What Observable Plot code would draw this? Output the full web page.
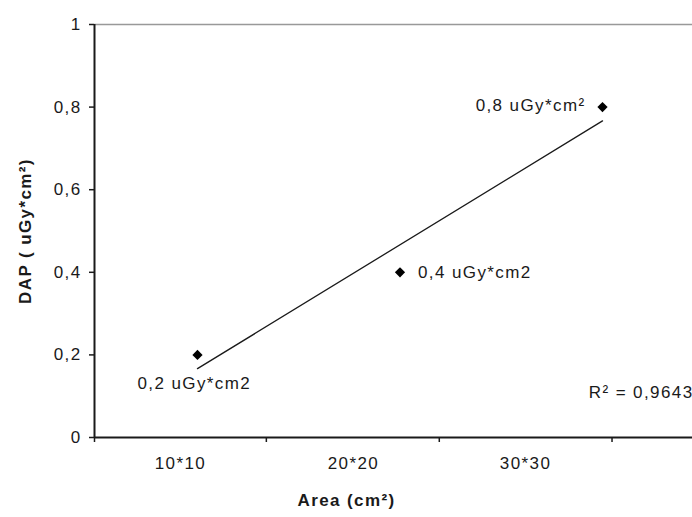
<!DOCTYPE html>
<html>
<head>
<meta charset="utf-8">
<script src="https://cdn.jsdelivr.net/npm/d3@7"></script>
<script src="https://cdn.jsdelivr.net/npm/@observablehq/plot@0.6"></script>
<style>
  html, body { margin: 0; padding: 0; background: #fff; }
</style>
</head>
<body>
<div id="chart"></div>
<script>
// Data
const pointX = [1, 2, 3];
const pointY = [0.2, 0.4, 0.8];
const pointLabels = ["0,2 uGy*cm2", "0,4 uGy*cm2", "0,8 uGy*cm²"];
const categories = ["10*10", "20*20", "30*30"];
const categoryLabelX = [0.916, 1.77, 2.62];
const categoryTickX = [0.4914, 1.34, 2.194, 3.047];
const yTicks = [0, 0.2, 0.4, 0.6, 0.8, 1];
const r2Text = "R² = 0,9643";
const yTitle = "DAP ( uGy*cm²)";
const xTitle = "Area (cm²)";
const xDomain = [0.4914, 3.4444];

const points = pointX.map((x, i) => ({x, y: pointY[i], label: pointLabels[i]}));
const ink = "#1a1a1a";

const chart = Plot.plot({
  width: 692,
  height: 517,
  marginLeft: 94,
  marginRight: 0,
  marginTop: 24,
  marginBottom: 80,
  style: {fontFamily: "'Liberation Sans', Arial, sans-serif", fontSize: "17px", letterSpacing: "1.4px", color: ink, background: "#fff"},
  x: {domain: xDomain},
  y: {domain: [0, 1]},
  marks: [
    Plot.ruleY([1], {stroke: "#999", strokeWidth: 1.5}),
    Plot.ruleY([0], {stroke: ink, strokeWidth: 2}),
    Plot.ruleX([xDomain[0]], {stroke: ink, strokeWidth: 2}),
    Plot.axisY({ticks: yTicks, tickSize: 5, tickPadding: 8, tickFormat: d => String(d).replace(".", ","), label: null, stroke: ink, fill: ink, strokeWidth: 1.5, fontSize: 17}),
    Plot.axisX({ticks: categoryTickX, tickSize: 5, tickFormat: () => "", label: null, stroke: ink, strokeWidth: 1.5}),
    Plot.text(categories, {x: (d, i) => categoryLabelX[i], frameAnchor: "bottom", dy: 31, text: d => d, fill: ink, fontSize: 17}),
    Plot.linearRegressionY(points, {x: "x", y: "y", ci: 0, stroke: ink, strokeWidth: 1.3}),
    Plot.dot(points, {x: "x", y: "y", symbol: "diamond2", r: 4.6, fill: "#000", stroke: "none"}),
    Plot.text([points[2]], {x: "x", y: "y", text: "label", textAnchor: "end", dx: -17, dy: -2, fill: ink, fontSize: 17}),
    Plot.text([points[1]], {x: "x", y: "y", text: "label", textAnchor: "start", dx: 18, dy: 0, fill: ink, fontSize: 17}),
    Plot.text([points[0]], {x: "x", y: "y", text: "label", textAnchor: "start", dx: -60, dy: 29, fill: ink, fontSize: 17}),
    Plot.text([r2Text], {frameAnchor: "bottom-right", dx: 1, dy: -40, textAnchor: "end", text: d => d, fill: ink, fontSize: 17}),
    Plot.text([yTitle], {frameAnchor: "left", dx: -69, rotate: -90, textAnchor: "middle", text: d => d, fontWeight: "bold", fill: ink, fontSize: 17}),
    Plot.text([xTitle], {frameAnchor: "bottom", dx: -47, dy: 68, text: d => d, fontWeight: "bold", fill: ink, fontSize: 17})
  ]
});
document.getElementById("chart").appendChild(chart);
</script>
</body>
</html>
